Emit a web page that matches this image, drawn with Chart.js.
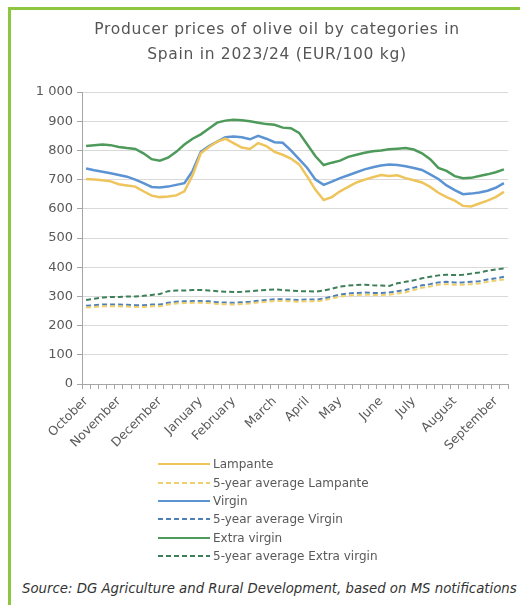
<!DOCTYPE html>
<html>
<head>
<meta charset="utf-8">
<script src="https://cdn.jsdelivr.net/npm/chart.js@4.4.1/dist/chart.umd.min.js"></script>
<style>
  body { margin: 0; background: #fff; }
  #wrap { position: relative; width: 520px; height: 605px; overflow: hidden; font-family: 'DejaVu Sans', sans-serif; }
  #frame { position: absolute; left: 8px; top: 7px; width: 700px; height: 800px; border-left: 3px solid #8dc63f; border-top: 3px solid #8dc63f; }
  #title { position: absolute; left: 34px; width: 486px; top: 17px; text-align: center; font-size: 15.5px; letter-spacing: 0.7px; line-height: 25px; color: #555; }
  #chart { position: absolute; left: 0; top: 0; }
  #legend { position: absolute; left: 158px; top: 455px; font-size: 12px; color: #595959; }
  #legend .row { height: 18.4px; display: flex; align-items: center; white-space: nowrap; }
  #legend svg { margin-right: 3px; }
  #source { position: absolute; left: 22px; top: 581px; font-style: italic; font-size: 13.3px; color: #333; white-space: nowrap; }
</style>
</head>
<body>
<div id="wrap">
  <div id="frame"></div>
  <canvas id="chart" width="520" height="460"></canvas>
  <div id="title">Producer prices of olive oil by categories in<br>Spain in 2023/24 (EUR/100 kg)</div>
  <div id="legend"></div>
  <div id="source">Source: DG Agriculture and Rural Development, based on MS notifications</div>
</div>
<script>
// weekly prices, marketing year Oct 2023 - Sep 2024
const monthNames = ['October', 'November', 'December', 'January', 'February', 'March',
  'April', 'May', 'June', 'July', 'August', 'September'];
const monthStartWeek = [0, 4, 9, 14, 18, 23, 27, 31, 36, 40, 45, 50];

const lampante = [702, 700, 698, 694, 684, 680, 676, 660, 645, 640, 642, 646, 660, 715, 790, 812,
  830, 840, 825, 810, 805, 825, 815, 795, 785, 772, 752, 710, 665, 630, 640, 660,
  675, 690, 700, 708, 716, 712, 715, 705, 698, 690, 675, 655, 640, 628, 610, 608,
  618, 628, 640, 658];
const lampanteAvg = [262, 264, 266, 266, 266, 265, 264, 264, 266, 266, 272, 276, 277, 278, 278, 277,
  274, 273, 272, 274, 276, 279, 282, 284, 284, 283, 282, 284, 283, 286, 293, 299,
  303, 305, 306, 305, 305, 306, 310, 314, 322, 330, 334, 340, 342, 340, 340, 342,
  344, 350, 354, 358];
const virgin = [738, 732, 727, 722, 716, 710, 700, 688, 675, 673, 676, 682, 688, 730, 795, 815,
  830, 845, 848, 845, 838, 850, 840, 828, 826, 800, 770, 740, 700, 682, 693, 705,
  715, 725, 735, 742, 748, 752, 750, 746, 740, 733, 718, 702, 680, 664, 650, 652,
  656, 662, 672, 688];
const virginAvg = [268, 270, 272, 272, 272, 271, 270, 270, 272, 272, 278, 282, 283, 284, 284, 283,
  280, 279, 278, 280, 282, 285, 288, 290, 290, 289, 288, 290, 289, 292, 300, 306,
  310, 312, 313, 312, 312, 313, 318, 322, 330, 338, 342, 348, 350, 348, 348, 350,
  352, 358, 362, 367];
const extraVirgin = [815, 818, 820, 818, 812, 808, 805, 790, 770, 765, 775, 795, 820, 840, 855, 875,
  895, 902, 905, 903, 900, 895, 890, 888, 878, 876, 860, 820, 780, 750, 758, 765,
  778, 785, 792, 797, 800, 804, 806, 808, 803, 790, 770, 740, 730, 712, 705, 706,
  712, 718, 725, 735];
const extraVirginAvg = [288, 292, 296, 298, 298, 300, 300, 302, 305, 308, 318, 320, 320, 322, 322, 320,
  318, 316, 315, 316, 318, 320, 322, 324, 322, 320, 318, 318, 316, 320, 326, 334,
  337, 339, 340, 338, 337, 336, 345, 350, 355, 362, 367, 372, 374, 373, 374, 378,
  382, 388, 392, 396];

const labels = lampante.map(() => '');
monthStartWeek.forEach((w, k) => { labels[w] = monthNames[k]; });

const FONT = 'DejaVu Sans';
const TXT = '#595959';

const ctx = document.getElementById('chart').getContext('2d');
const chart = new Chart(ctx, {
  type: 'line',
  data: {
    labels,
    datasets: [
      { label: 'Lampante', data: lampante, borderColor: '#eec45c', borderWidth: 2.5 },
      { label: '5-year average Lampante', data: lampanteAvg, borderColor: '#efcf6c', borderWidth: 2, borderDash: [5, 3] },
      { label: 'Virgin', data: virgin, borderColor: '#5b93d3', borderWidth: 2.5 },
      { label: '5-year average Virgin', data: virginAvg, borderColor: '#4f80b4', borderWidth: 2, borderDash: [5, 3] },
      { label: 'Extra virgin', data: extraVirgin, borderColor: '#4e9a5a', borderWidth: 2.5 },
      { label: '5-year average Extra virgin', data: extraVirginAvg, borderColor: '#3d7f58', borderWidth: 2, borderDash: [5, 3] },
    ],
  },
  options: {
    responsive: false,
    animation: false,
    elements: { point: { radius: 0 }, line: { tension: 0 } },
    layout: { padding: { left: 0, right: 12, top: 92, bottom: 0 } },
    plugins: { legend: { display: false }, title: { display: false }, tooltip: { enabled: false } },
    scales: {
      x: {
        offset: true,
        grid: { offset: true, drawOnChartArea: false, tickLength: 5, color: '#a6a6a6' },
        border: { color: '#a6a6a6' },
        ticks: {
          autoSkip: false, maxRotation: 45, minRotation: 45, padding: 5,
          color: TXT, font: { family: FONT, size: 12.5 },
        },
        afterFit(scale) { scale.height = 76; },
      },
      y: {
        min: 0,
        max: 1000,
        grid: { color: '#d9d9d9', tickLength: 5, tickColor: '#a6a6a6' },
        border: { color: '#a6a6a6' },
        ticks: {
          stepSize: 100, padding: 4, color: TXT, font: { family: FONT, size: 13 },
          callback: (v) => (v >= 1000 ? '1 000' : v),
        },
        afterFit(scale) { scale.width = 82; },
      },
    },
  },
});

// html legend, one item per row
const legendEl = document.getElementById('legend');
chart.data.datasets.forEach((ds) => {
  const row = document.createElement('div');
  row.className = 'row';
  const dash = ds.borderDash ? ds.borderDash.join(',') : 'none';
  row.innerHTML = `<svg width="52" height="6"><line x1="0" y1="3" x2="52" y2="3" stroke="${ds.borderColor}" stroke-width="2" stroke-dasharray="${dash}"/></svg><span>${ds.label}</span>`;
  legendEl.appendChild(row);
});
</script>
</body>
</html>
